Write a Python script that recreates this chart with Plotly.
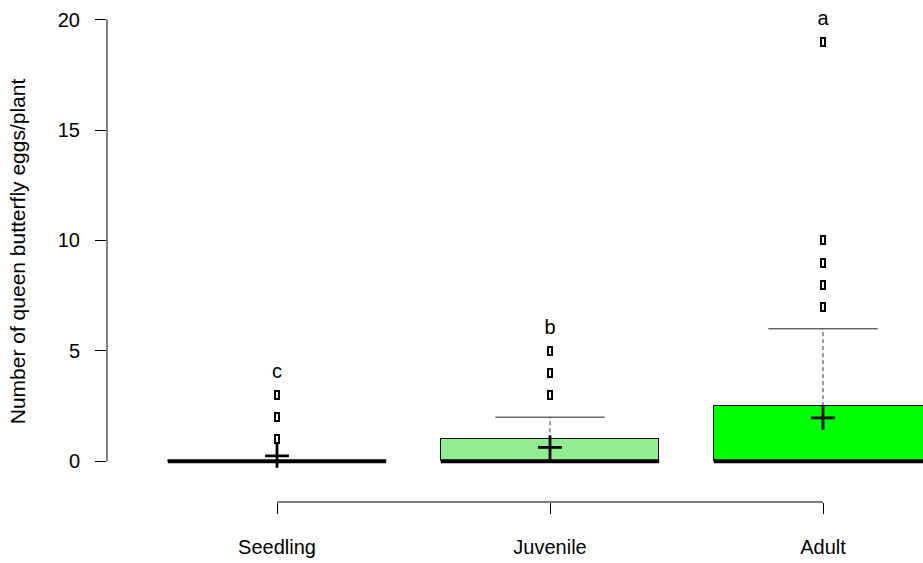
import plotly.graph_objects as go

# ---- data ----
categories = ["Seedling", "Juvenile", "Adult"]
q1 = [0, 0, 0]
medians = [0, 0, 0]
q3 = [0, 1, 2.5]
upper_whisker = [0, 2, 6]
means = [0.25, 0.63, 1.97]
outliers_seedling = [1, 2, 3]
outliers_juvenile = [3, 4, 5]
outliers_adult = [7, 8, 9, 10, 19]
letters = ["c", "b", "a"]
letter_y = [4, 6, 20]
fill_colors = ["white", "#90EE90", "#00FF00"]

FONT = "Liberation Sans, Arial, sans-serif"
FS = 20
xpos = [i + 1 for i in range(len(categories))]
BOX_HALF = 0.4
STAPLE_HALF = 0.2

fig = go.Figure()

# boxes (Q1..Q3)
fig.add_trace(go.Bar(
    x=xpos, base=q1, y=[b - a for a, b in zip(q1, q3)], width=2 * BOX_HALF,
    marker=dict(color=fill_colors, line=dict(color="black", width=1)),
    hoverinfo="skip", showlegend=False))

# whiskers (dashed), staples, medians
wx, wy, sx, sy, mx, my = [], [], [], [], [], []
for x, a, b, m, w in zip(xpos, q1, q3, medians, upper_whisker):
    wx += [x, x, None]; wy += [b, w, None]
    sx += [x - STAPLE_HALF, x + STAPLE_HALF, None]; sy += [w, w, None]
    mx += [x - BOX_HALF, x + BOX_HALF, None]; my += [m, m, None]
fig.add_trace(go.Scatter(x=wx, y=wy, mode="lines",
                         line=dict(color="#333333", width=1, dash="4px,3px"),
                         hoverinfo="skip", showlegend=False))
fig.add_trace(go.Scatter(x=sx, y=sy, mode="lines",
                         line=dict(color="#222222", width=1),
                         hoverinfo="skip", showlegend=False))
fig.add_trace(go.Scatter(x=mx, y=my, mode="lines",
                         line=dict(color="black", width=4),
                         hoverinfo="skip", showlegend=False))

# outliers as small open rectangles
OUT_W = 0.016
OUT_H = 0.36
ox, ov = [], []
for x, vals in zip(xpos, [outliers_seedling, outliers_juvenile, outliers_adult]):
    for v in vals:
        ox.append(x); ov.append(v)
fig.add_trace(go.Bar(
    x=ox, base=[v - OUT_H / 2 for v in ov], y=[OUT_H] * len(ov), width=OUT_W,
    marker=dict(color="white", line=dict(color="black", width=2)),
    hoverinfo="skip", showlegend=False))

# means
fig.add_trace(go.Scatter(
    x=xpos, y=means, mode="markers",
    marker=dict(symbol="cross-thin", size=17, line=dict(color="black", width=2.8)),
    hoverinfo="skip", showlegend=False))

# significance letters
fig.add_trace(go.Scatter(
    x=xpos, y=letter_y, mode="text", text=letters,
    textfont=dict(family=FONT, size=FS, color="black"),
    hoverinfo="skip", showlegend=False))

# axis lines as in R (only between extreme ticks)
fig.add_shape(type="line", xref="paper", yref="y", x0=0, x1=0, y0=0, y1=20,
              line=dict(color="black", width=1))
fig.add_shape(type="line", xref="x", yref="paper", x0=xpos[0], x1=xpos[-1], y0=0, y1=0,
              line=dict(color="black", width=1))

fig.update_layout(
    width=923, height=563,
    margin=dict(l=107, r=0, t=1, b=61),
    plot_bgcolor="white", paper_bgcolor="white",
    barmode="overlay", bargap=0,
    font=dict(family=FONT, size=FS, color="black"),
    showlegend=False,
    xaxis=dict(range=[0.3773, 3.3663], tickvals=xpos, ticktext=categories,
               ticks="outside", ticklen=11, tickcolor="black", tickwidth=1,
               showgrid=False, zeroline=False, showline=False,
               ticklabelstandoff=16, tickfont=dict(size=FS)),
    yaxis=dict(range=[-1.84, 20.84], tickvals=[0, 5, 10, 15, 20],
               ticks="outside", ticklen=11, tickcolor="black", tickwidth=1,
               showgrid=False, zeroline=False, showline=False,
               ticklabelstandoff=11, tickfont=dict(size=FS)),
)
fig.update_yaxes(title=dict(text="Number of queen butterfly eggs/plant",
                            font=dict(size=21), standoff=26))

fig.write_html("out.html", config={"displayModeBar": False},
               post_script="document.body.style.margin='0px';")
